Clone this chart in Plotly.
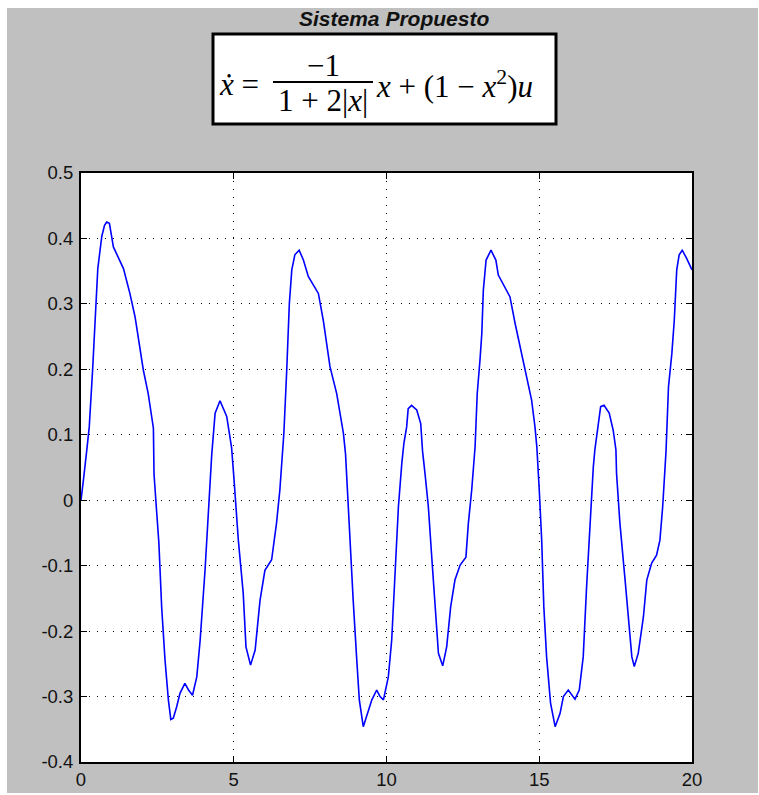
import plotly.graph_objects as go

# ---- data ----
t_vals = [0, 0.02, 0.08, 0.19, 0.27, 0.38, 0.46, 0.55, 0.68, 0.77, 0.84, 0.93, 1.06, 1.39, 1.60, 1.77,
          2.04, 2.20, 2.37, 2.39, 2.48, 2.55, 2.64, 2.75, 2.86, 2.94, 3.02, 3.13, 3.24, 3.40, 3.52, 3.65,
          3.79, 3.90, 4.06, 4.17, 4.28, 4.39, 4.55, 4.77, 4.93, 5.01, 5.15, 5.31, 5.40, 5.55, 5.70, 5.86,
          6.02, 6.24, 6.40, 6.51, 6.62, 6.64, 6.73, 6.82, 6.90, 7.00, 7.14, 7.28, 7.44, 7.77, 7.93, 8.15,
          8.37, 8.59, 8.66, 8.75, 8.83, 8.91, 9.02, 9.11, 9.24, 9.37, 9.52, 9.68, 9.79, 9.90, 10.06, 10.17,
          10.28, 10.39, 10.50, 10.57, 10.66, 10.71, 10.82, 10.99, 11.12, 11.18, 11.26, 11.37, 11.48, 11.59,
          11.70, 11.84, 11.97, 12.10, 12.24, 12.41, 12.60, 12.68, 12.79, 12.90, 12.97, 13.06, 13.12, 13.17,
          13.26, 13.42, 13.58, 13.66, 13.88, 14.04, 14.21, 14.37, 14.59, 14.75, 14.86, 14.92, 15.00, 15.08,
          15.15, 15.24, 15.37, 15.52, 15.68, 15.79, 15.95, 16.17, 16.31, 16.44, 16.55, 16.66, 16.77, 16.82,
          16.93, 17.01, 17.12, 17.29, 17.42, 17.51, 17.53, 17.64, 17.81, 17.92, 18.03, 18.11, 18.24, 18.41,
          18.52, 18.68, 18.84, 18.95, 19.04, 19.15, 19.23, 19.34, 19.42, 19.50, 19.58, 19.68, 19.82, 20.0]
x_vals = [0, 0.011, 0.031, 0.077, 0.112, 0.199, 0.283, 0.354, 0.403, 0.420, 0.425, 0.423, 0.387, 0.354, 0.316, 0.280,
          0.199, 0.163, 0.110, 0.040, -0.020, -0.066, -0.163, -0.244, -0.305, -0.335, -0.333, -0.316, -0.295, -0.280, -0.290, -0.298,
          -0.270, -0.214, -0.107, -0.010, 0.070, 0.133, 0.152, 0.128, 0.080, 0.031, -0.061, -0.142, -0.224, -0.252, -0.229, -0.153,
          -0.107, -0.091, -0.035, 0.016, 0.082, 0.102, 0.194, 0.301, 0.352, 0.375, 0.382, 0.367, 0.342, 0.316, 0.275, 0.204,
          0.163, 0.102, 0.070, -0.010, -0.102, -0.153, -0.239, -0.305, -0.346, -0.326, -0.305, -0.290, -0.300, -0.305, -0.270, -0.214,
          -0.107, -0.010, 0.056, 0.087, 0.112, 0.140, 0.145, 0.138, 0.117, 0.075, 0.041, -0.010, -0.086, -0.158,
          -0.234, -0.253, -0.224, -0.163, -0.122, -0.099, -0.087, -0.035, 0.016, 0.082, 0.163, 0.214, 0.255, 0.321,
          0.367, 0.382, 0.367, 0.344, 0.326, 0.311, 0.270, 0.235, 0.184, 0.153, 0.112, 0.082, 0.016, -0.061,
          -0.163, -0.239, -0.310, -0.346, -0.326, -0.300, -0.290, -0.304, -0.290, -0.239, -0.132, -0.035, 0.051, 0.077,
          0.117, 0.143, 0.145, 0.133, 0.107, 0.077, 0.041, -0.035, -0.122, -0.178, -0.239, -0.254, -0.234, -0.178,
          -0.122, -0.096, -0.084, -0.061, -0.010, 0.075, 0.173, 0.224, 0.275, 0.352, 0.375, 0.382, 0.370, 0.352]

x_tick_vals = [0, 5, 10, 15, 20]
x_tick_text = ["0", "5", "10", "15", "20"]
y_tick_vals = [0.5, 0.4, 0.3, 0.2, 0.1, 0, -0.1, -0.2, -0.3, -0.4]
y_tick_text = ["0.5", "0.4", "0.3", "0.2", "0.1", "0", "-0.1", "-0.2", "-0.3", "-0.4"]

title_text = "<b><i>Sistema Propuesto</i></b>"

GREY = "#c0c0c0"
W, H = 759, 795
ML, MR, MT, MB = 81, W - 692, 173, H - 762
PW, PH = W - ML - MR, H - MT - MB


def px(x):
    return (x - ML) / PW


def py(y):
    return (H - MB - y) / PH


fig = go.Figure()
fig.add_trace(go.Scatter(x=t_vals, y=x_vals, mode="lines",
                         line=dict(color="#0000ff", width=1.6), showlegend=False, hoverinfo="skip"))

axis_common = dict(
    showline=True, linecolor="#000000", linewidth=2, mirror="ticks",
    ticks="inside", ticklen=6, tickwidth=1, tickcolor="#000000",
    showgrid=True, gridcolor="#000000", gridwidth=1, griddash="1px,7px",
    zeroline=False, automargin=False,
    tickfont=dict(family="Liberation Sans, Arial, sans-serif", size=18.5, color="#111111"),
)

fig.update_xaxes(range=[0, 20], tickmode="array", tickvals=x_tick_vals, ticktext=x_tick_text,
                 ticklabelstandoff=0, **axis_common)
fig.update_yaxes(range=[-0.4, 0.5], tickmode="array", tickvals=y_tick_vals, ticktext=y_tick_text,
                 ticklabelstandoff=2, **axis_common)

shapes = []
# white strips round the grey figure area
for (x0, y0, x1, y1) in [(0, 0, W, 8), (0, 0, 7, H), (758, 0, W, H), (0, 793, W, H)]:
    shapes.append(dict(type="rect", xref="paper", yref="paper", x0=px(x0), x1=px(x1), y0=py(y1), y1=py(y0),
                       fillcolor="#ffffff", line=dict(width=0), layer="above"))
# equation box
shapes.append(dict(type="rect", xref="paper", yref="paper", x0=px(213), x1=px(556), y0=py(124), y1=py(34),
                   fillcolor="#ffffff", line=dict(color="#000000", width=3), layer="above"))
# fraction bar
shapes.append(dict(type="line", xref="paper", yref="paper", x0=px(273), x1=px(373), y0=py(82), y1=py(82),
                   line=dict(color="#000000", width=2), layer="above"))

serif = dict(family="Liberation Serif, Times New Roman, serif", size=31, color="#000000")
annotations = [
    dict(text=title_text, xref="paper", yref="paper", x=px(394), y=py(18), xanchor="center", yanchor="middle",
         showarrow=False, font=dict(family="Liberation Sans, Arial, sans-serif", size=21, color="#111111")),
    dict(text="<i>ẋ</i> =", xref="paper", yref="paper", x=px(217), y=py(84), xanchor="left", yanchor="middle",
         showarrow=False, font=serif),
    dict(text="−1", xref="paper", yref="paper", x=px(323), y=py(65), xanchor="center", yanchor="middle",
         showarrow=False, font=serif),
    dict(text="1 + 2|<i>x</i>|", xref="paper", yref="paper", x=px(323), y=py(101), xanchor="center",
         yanchor="middle", showarrow=False, font=serif),
    dict(text="<i>x</i> + (1 − <i>x</i><sup>2</sup>)<i>u</i>", xref="paper", yref="paper", x=px(374), y=py(84),
         xanchor="left", yanchor="middle", showarrow=False, font=serif),
]

fig.update_layout(
    width=W, height=H, margin=dict(l=ML, r=MR, t=MT, b=MB, pad=0, autoexpand=False),
    paper_bgcolor=GREY, plot_bgcolor="#ffffff",
    shapes=shapes, annotations=annotations, showlegend=False,
)

fig.write_html("out.html", config={"displayModeBar": False},
               post_script="document.body.style.margin='0';")
